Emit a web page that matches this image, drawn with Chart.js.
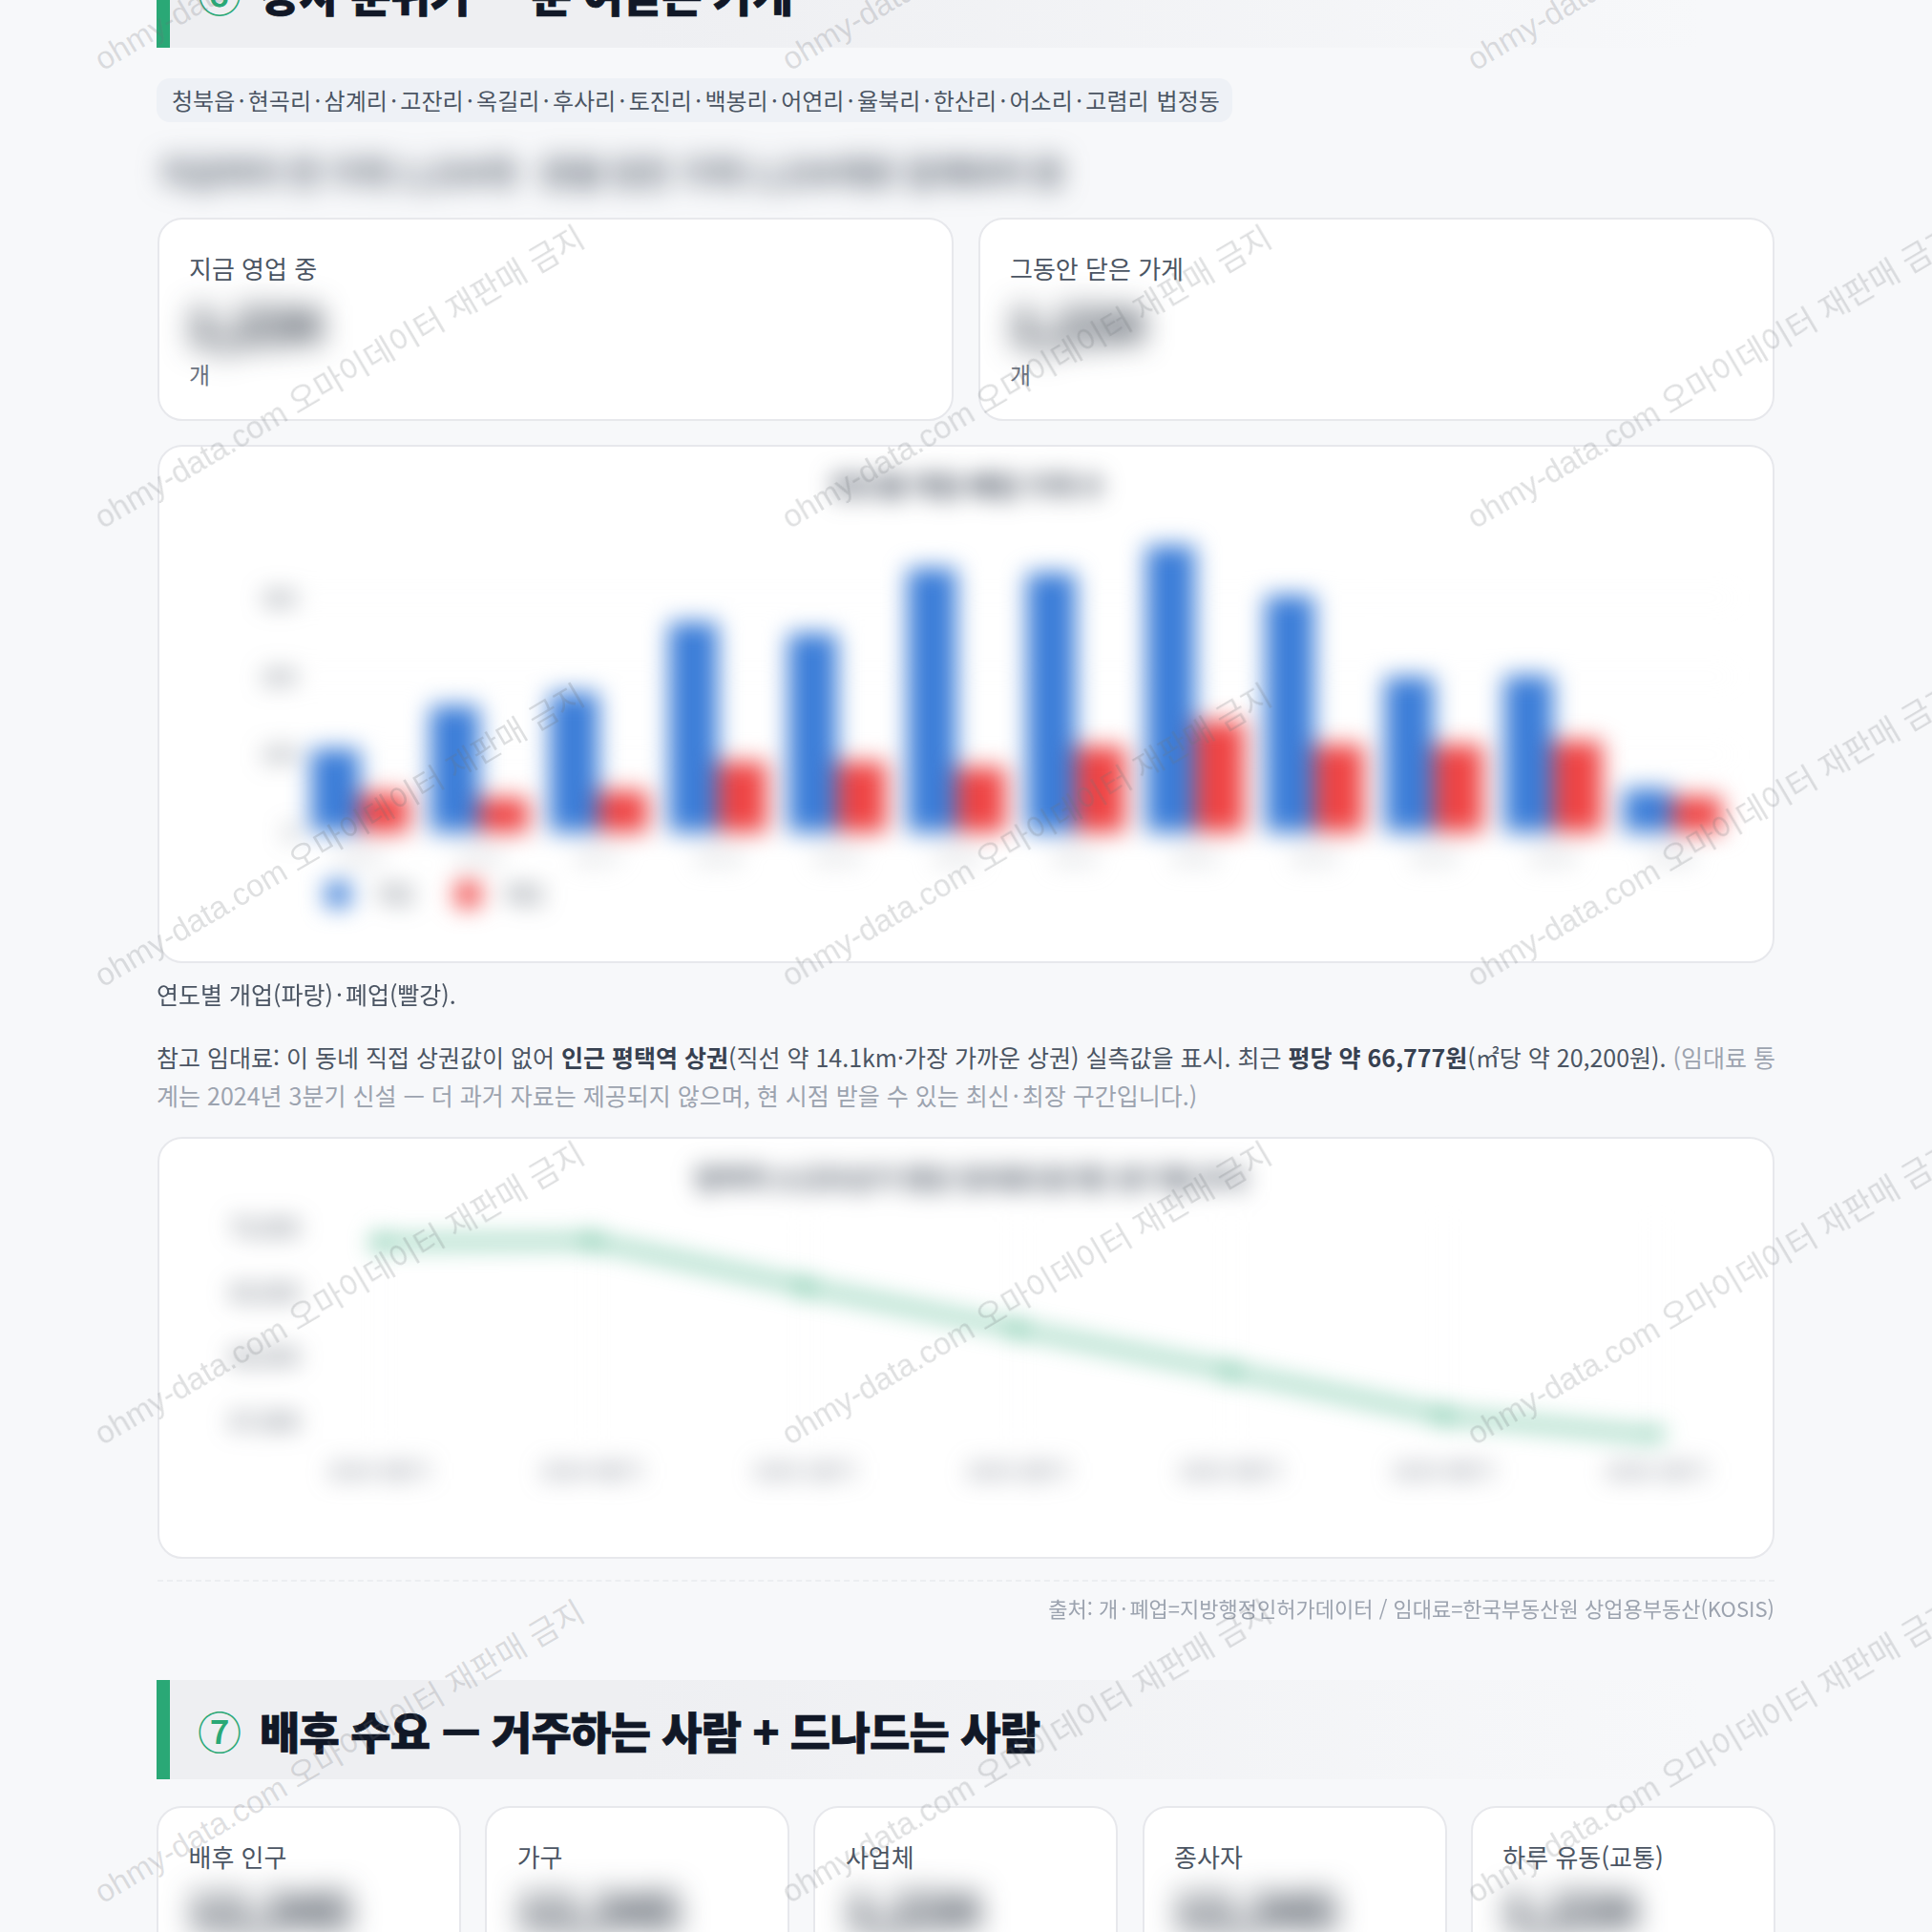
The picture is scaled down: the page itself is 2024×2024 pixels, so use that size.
<!DOCTYPE html>
<html lang="ko"><head><meta charset="utf-8">
<script src="https://cdn.jsdelivr.net/npm/chart.js@4"></script>
<style>
html,body{margin:0;padding:0;width:2024px;height:2024px;overflow:hidden;background:#f7f8fa;font-family:"Noto Sans CJK KR","Noto Sans",sans-serif;}
.a{position:absolute;white-space:nowrap;line-height:1;}
.head{position:absolute;left:164px;width:1622px;height:104px;box-sizing:border-box;border-left:14px solid #2aa876;background:linear-gradient(90deg,#eeeff2 0%,#eeeff2 30%,#f7f8fa 100%);}
.ht{position:absolute;left:272px;font-size:46px;font-weight:900;color:#111827;line-height:1;white-space:nowrap;letter-spacing:-.77px;-webkit-text-stroke:.7px #111827;}
.ht i{font-style:normal;color:#2aa876;font-weight:500;font-size:46px;position:absolute;left:-65px;-webkit-text-stroke:0;}
.card{position:absolute;background:#fff;border:2px solid #e7e8ec;border-radius:26px;box-sizing:border-box;}
.lab{font-size:26px;color:#4b5563;}
.cap{font-size:25px;color:#4b5563;}
.unit{font-size:24px;color:#6b7280;}
.num{font-size:50px;font-weight:900;color:#1f2937;filter:blur(16px);}
.dot{margin:0 3px;}
canvas{position:absolute;left:-2px;top:-2px;filter:blur(12px);}
.wm{position:absolute;font-family:"Liberation Sans","Noto Sans CJK KR",sans-serif;font-size:33px;color:rgba(110,112,120,.22);white-space:nowrap;transform-origin:0 100%;transform:rotate(-30.5deg);line-height:1;z-index:9;pointer-events:none;}
b{color:#374151}
</style></head><body>
<div class="head" style="top:-54px"></div>
<div class="ht" style="top:-31px"><i>⑥</i>장사 분위기 — 문 여닫은 가게</div>
<div class="a" style="left:164px;top:82px;width:1127px;height:46px;background:#eef1f6;border-radius:14px"></div>
<div class="a" style="left:180px;top:93px;font-size:24px;color:#4b5563;word-spacing:-3.3px">청북읍 · 현곡리 · 삼계리 · 고잔리 · 옥길리 · 후사리 · 토진리 · 백봉리 · 어연리 · 율북리 · 한산리 · 어소리 · 고렴리<span style="margin-left:8px">법정동</span></div>
<div class="a" style="left:168px;top:163px;font-size:34px;font-weight:700;color:#4b5563;filter:blur(14px)">지금까지 연 가게 1,234개 · 문을 닫은 가게 1,234개로 집계되어 왔</div>

<div class="card" style="left:165px;top:228px;width:834px;height:213px"></div>
<div class="a lab" style="left:198px;top:268px">지금 영업 중</div>
<div class="a num" style="left:197px;top:313px">1,234</div>
<div class="a unit" style="left:198px;top:380px">개</div>
<div class="card" style="left:1025px;top:228px;width:834px;height:213px"></div>
<div class="a lab" style="left:1058px;top:268px">그동안 닫은 가게</div>
<div class="a num" style="left:1058px;top:313px">1,234</div>
<div class="a unit" style="left:1058px;top:380px">개</div>

<div class="card" style="left:165px;top:466px;width:1694px;height:543px"><canvas id="barChart" width="1694" height="543"></canvas></div>
<div class="a cap" style="left:164px;top:1029px">연도별 개업(파랑)<span class="dot">·</span>폐업(빨강).</div>
<div class="a cap" style="left:164px;top:1095px">참고 임대료: 이 동네 직접 상권값이 없어 <b>인근 평택역 상권</b>(직선 약 14.1km·가장 가까운 상권) 실측값을 표시. 최근 <b>평당 약 66,777원</b>(㎡당 약 20,200원). <span style="color:#9ca3af">(임대료 통</span></div>
<div class="a cap" style="left:164px;top:1135px;color:#9ca3af">계는 2024년 3분기 신설 — 더 과거 자료는 제공되지 않으며, 현 시점 받을 수 있는 최신<span class="dot">·</span>최장 구간입니다.)</div>

<div class="card" style="left:165px;top:1191px;width:1694px;height:442px"><canvas id="lineChart" width="1694" height="442"></canvas></div>
<div class="a" style="left:165px;top:1655px;width:1694px;border-top:2px dashed #eceef1"></div>
<div class="a" style="right:165px;top:1673px;font-size:22px;color:#9ca3af">출처: 개<span class="dot">·</span>폐업=지방행정인허가데이터 / 임대료=한국부동산원 상업용부동산(KOSIS)</div>

<div class="head" style="top:1760px"></div>
<div class="ht" style="top:1789px"><i>⑦</i>배후 수요 — 거주하는 사람 + 드나드는 사람</div>
<div id="cards"></div>
<div id="wm"></div>

<script>
const barYears = ["2015","2016","2017","2018","2019","2020","2021","2022","2023","2024","2025","2026"];
const openings = [107,162,179,269,255,338,332,367,303,199,201,56];
const closures = [50,44,53,90,90,83,110,142,112,112,117,46];
const barTicks = [0,100,200,300];
const rentQuarters = ["2024 3분기","2024 4분기","2025 1분기","2025 2분기","2025 3분기","2025 4분기","2026 1분기"];
const rentValues = [69770,69790,69081,68426,67771,67087,66777];
const rentTicks = [67000,68000,69000,70000];
const demandLabels = ["배후 인구","가구","사업체","종사자","하루 유동(교통)"];
const demandValues = ["12,345","12,345","1,234","12,345","1,234"];
const watermark = "ohmy-data.com 오마이데이터 재판매 금지";

const cards=document.getElementById('cards');
demandLabels.forEach((t,i)=>{
  const left=164+i*344.2;
  cards.insertAdjacentHTML('beforeend',`<div class="card" style="left:${left}px;top:1892px;width:319px;height:300px"></div><div class="a lab" style="left:${left+33.5}px;top:1932px">${t}</div><div class="a num" style="left:${left+34}px;top:1974px">${demandValues[i]}</div>`);
});
const wm=document.getElementById('wm');
[72,552,1032,1512,1992].forEach(y=>[110,830,1548].forEach(x=>{
  const d=document.createElement('div');d.className='wm';d.textContent=watermark;d.style.left=x+'px';d.style.top=(y-26)+'px';wm.appendChild(d);
}));

const FONT='"Noto Sans CJK KR","Noto Sans",sans-serif';
Chart.defaults.font.family=FONT;
const fixW=w=>s=>{s.width=w;};
const fixH=h=>s=>{s.height=h;};
new Chart(document.getElementById('barChart'),{
  type:'bar',
  data:{labels:barYears,datasets:[
    {label:'개업',data:openings,backgroundColor:'#3b7dd8',categoryPercentage:.82,barPercentage:1},
    {label:'폐업',data:closures,backgroundColor:'#ef4444',categoryPercentage:.82,barPercentage:1}]},
  plugins:[{id:'legendShift',afterLayout(c){c.legend.left=132;c.legend.top=414;}}],
  options:{responsive:false,animation:false,devicePixelRatio:1,
    layout:{autoPadding:false,padding:{left:48,right:44.5,top:17,bottom:17}},
    plugins:{
      title:{display:true,text:'연도별 개업·폐업 가게 수',font:{size:28,weight:'700'},color:'#374151',padding:{top:10,bottom:42.4}},
      legend:{position:'bottom',align:'start',labels:{boxWidth:26,boxHeight:26,padding:44,color:'#4b5563',font:{size:22},
        generateLabels(c){return Chart.defaults.plugins.legend.labels.generateLabels(c).map(l=>({...l,text:'   '+l.text}));}}},
      tooltip:{enabled:false}},
    scales:{
      x:{afterFit:fixH(40),grid:{display:false},ticks:{color:'#b5b9c0',font:{size:22},padding:4,maxRotation:0}},
      y:{min:0,max:370,afterFit:fixW(101.5),afterBuildTicks(s){s.ticks=barTicks.map(value=>({value}));},
        grid:{color:'#f3f4f6',drawTicks:false},border:{display:false},ticks:{color:'#4b5563',font:{size:22},padding:4}}
    }}
});
new Chart(document.getElementById('lineChart'),{
  type:'line',
  data:{labels:rentQuarters,datasets:[{label:'임대료',data:rentValues,borderColor:'rgba(42,168,118,.8)',backgroundColor:'rgba(42,168,118,.8)',borderWidth:8,pointRadius:4,tension:0}]},
  plugins:[{id:'titleShift',afterLayout(c){c.titleBlock.left=134;}}],
  options:{responsive:false,animation:false,devicePixelRatio:1,
    layout:{autoPadding:false,padding:{left:60,right:124,top:11,bottom:66}},
    plugins:{
      title:{display:true,text:'평택역 소규모상가 평당 임대료(원/평) 분기별 추이',font:{size:28,weight:'700'},color:'#4b5563',padding:{top:1.8,bottom:28.2}},
      legend:{display:false},tooltip:{enabled:false}},
    scales:{
      x:{afterFit:fixH(60),grid:{color:'#f3f4f6',drawTicks:false},border:{display:false},ticks:{color:'#6b7280',font:{size:22},padding:20,maxRotation:0}},
      y:{min:66732,max:70080,afterFit:fixW(172),afterBuildTicks(s){s.ticks=rentTicks.map(value=>({value}));},
        grid:{display:false},border:{display:false},ticks:{color:'#4b5563',font:{size:24},padding:75}}
    }}
});
</script>
</body></html>
